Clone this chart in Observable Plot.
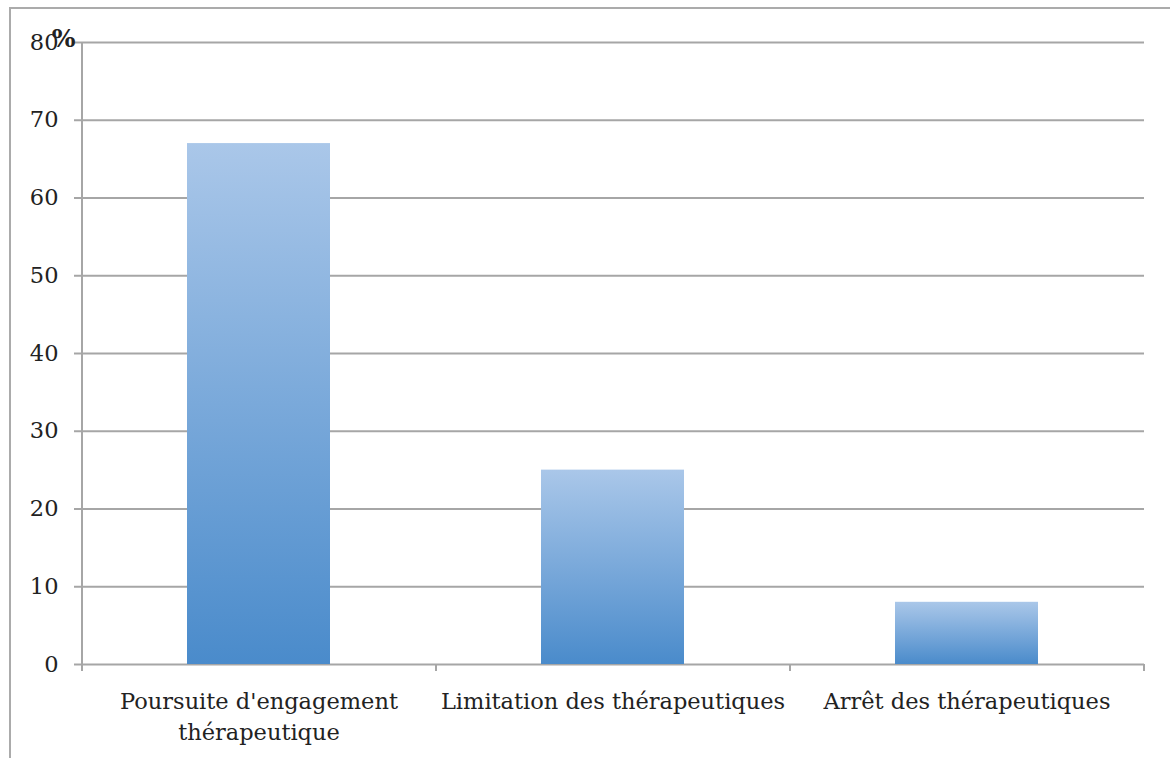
<!DOCTYPE html>
<html>
<head>
<meta charset="utf-8">
<script src="https://cdn.jsdelivr.net/npm/d3@7"></script>
<script src="https://cdn.jsdelivr.net/npm/@observablehq/plot@0.6"></script>
<style>
  html, body { margin: 0; padding: 0; background: #fff; }
  #wrap { position: relative; width: 1170px; height: 758px; overflow: hidden; }
  #wrap svg { position: absolute; left: 0; top: 0; }
  #border { position: absolute; left: 9px; top: 7px; right: -5px; bottom: -5px;
            border-left: 2px solid #ababab; border-top: 2px solid #ababab; pointer-events: none; }
</style>
</head>
<body>
<div id="wrap"><div id="border"></div></div>
<script>
const categories = ["Poursuite d'engagement thérapeutique", "Limitation des thérapeutiques", "Arrêt des thérapeutiques"];
const tickLabels = ["Poursuite d'engagement\nthérapeutique", "Limitation des thérapeutiques", "Arrêt des thérapeutiques"];
const values = [67, 25, 8];
const yTicks = [0, 10, 20, 30, 40, 50, 60, 70, 80];
const unitLabel = ["%"];

const data = categories.map((c, i) => ({category: c, value: values[i]}));
const labelOf = new Map(categories.map((c, i) => [c, tickLabels[i]]));

const W = 1170, H = 758, ML = 82, MR = 26, MT = 42, MB = 94;
const step = (W - ML - MR) / categories.length;
const grid = "#a6a6a6";

const defs = () => {
  const d = d3.create("svg:defs");
  const g = d.append("linearGradient").attr("id", "barGrad")
    .attr("x1", 0).attr("y1", 0).attr("x2", 0).attr("y2", 1);
  g.append("stop").attr("offset", "0%").attr("stop-color", "#aac7e9");
  g.append("stop").attr("offset", "100%").attr("stop-color", "#4a8bcb");
  const f = d.append("filter").attr("id", "shadow").attr("x", "-10%").attr("y", "-10%").attr("width", "120%").attr("height", "120%");
  f.append("feDropShadow").attr("dx", 0).attr("dy", 1).attr("stdDeviation", 2)
    .attr("flood-color", "#000").attr("flood-opacity", 0.25);
  return d.node();
};

const chart = Plot.plot({
  width: W, height: H,
  marginLeft: ML, marginRight: MR, marginTop: MT, marginBottom: MB,
  style: {fontFamily: "'DejaVu Serif', serif", fontSize: "22.5px", color: "#222", background: "transparent", overflow: "visible"},
  x: {domain: categories, paddingInner: 0.596, paddingOuter: 0.298, label: null},
  y: {domain: [0, 80], label: null},
  marks: [
    defs,
    Plot.ruleY(yTicks, {stroke: grid, strokeWidth: 2}),
    Plot.barY(data, {x: "category", y: "value", fill: "url(#barGrad)"}),
    Plot.axisY({ticks: yTicks, tickSize: 8, tickPadding: 16, stroke: grid, strokeWidth: 2, fill: "#222", fontSize: 22.5, label: null}),
    Plot.axisX({tickSize: 0, tickPadding: 22, tickFormat: d => labelOf.get(d), lineHeight: 1.4, fill: "#222", fontSize: 22.5, label: null}),
    // y axis line (left edge of first band), extends slightly below zero
    Plot.ruleX([categories[0]], {y1: 80, y2: 0, dx: -step / 2, insetBottom: -7, stroke: grid, strokeWidth: 2}),
    // category boundary tick marks
    Plot.ruleX(categories, {y1: 0, y2: 0, dx: step / 2, insetBottom: -7, stroke: grid, strokeWidth: 2}),
    Plot.text(unitLabel, {frameAnchor: "top-left", dx: -19, dy: -4, fontWeight: "bold", fontSize: 25, fill: "#222", textAnchor: "middle", lineAnchor: "middle"})
  ]
});
chart.querySelectorAll("rect").forEach(r => { if (r.getAttribute("fill") === "url(#barGrad)") r.setAttribute("filter", "url(#shadow)"); });
document.getElementById("wrap").prepend(chart);
</script>
</body>
</html>
